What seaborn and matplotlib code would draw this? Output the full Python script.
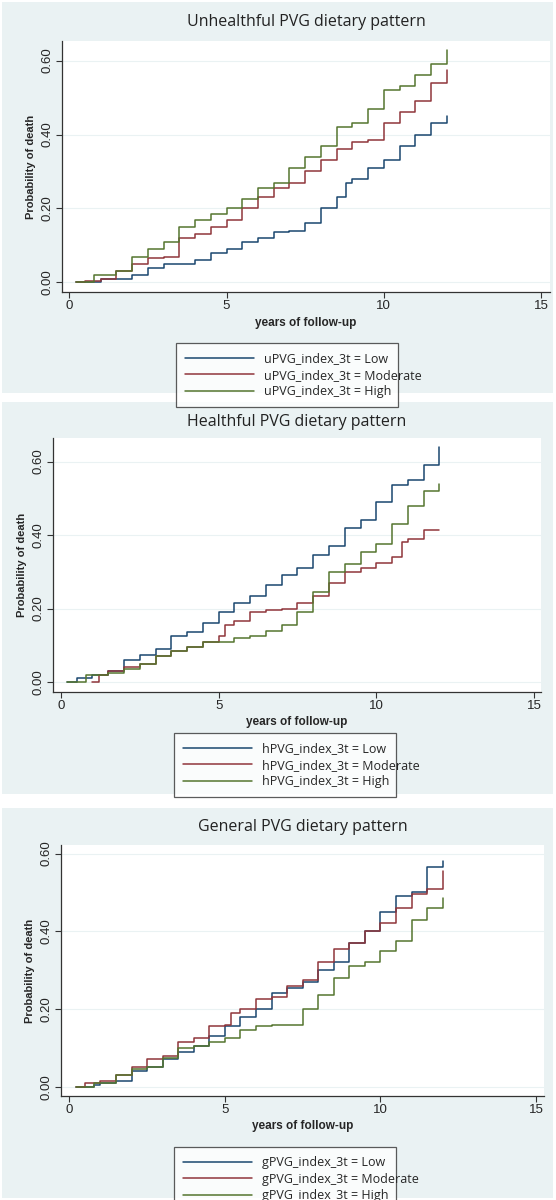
import numpy as np
import pandas as pd
import seaborn as sns
import matplotlib.pyplot as plt
from matplotlib.patches import Rectangle

# step knots (years, probability of death)
u_low_t = [0.2, 1.0, 2.0, 2.5, 3.0, 4.0, 4.5, 5.0, 5.5, 6.0, 6.5, 7.0, 7.5, 8.0, 8.5, 8.8, 9.0, 9.5, 10.0, 10.5, 11.0, 11.5, 12.0]
u_low_v = [0, 0.01, 0.02, 0.04, 0.05, 0.06, 0.08, 0.09, 0.11, 0.12, 0.135, 0.14, 0.16, 0.20, 0.23, 0.27, 0.28, 0.31, 0.33, 0.37, 0.40, 0.43, 0.45]
u_mod_t = [0.2, 0.5, 1.0, 1.5, 2.0, 2.5, 3.0, 3.5, 4.0, 4.5, 5.0, 5.5, 6.0, 6.5, 7.0, 7.5, 8.0, 8.5, 9.0, 9.5, 10.0, 10.5, 11.0, 11.5, 12.0]
u_mod_v = [0, 0.005, 0.01, 0.03, 0.05, 0.065, 0.07, 0.12, 0.13, 0.15, 0.17, 0.20, 0.23, 0.255, 0.27, 0.30, 0.33, 0.36, 0.38, 0.385, 0.43, 0.46, 0.49, 0.54, 0.575]
u_high_t = [0.2, 0.8, 1.5, 2.0, 2.5, 3.0, 3.5, 4.0, 4.5, 5.0, 5.5, 6.0, 6.5, 7.0, 7.5, 8.0, 8.5, 9.0, 9.5, 10.0, 10.5, 11.0, 11.5, 12.0]
u_high_v = [0, 0.02, 0.03, 0.07, 0.09, 0.11, 0.15, 0.17, 0.185, 0.20, 0.225, 0.255, 0.27, 0.31, 0.34, 0.37, 0.42, 0.43, 0.47, 0.52, 0.53, 0.56, 0.59, 0.63]

h_low_t = [0.2, 0.5, 1.0, 1.5, 2.0, 2.5, 3.0, 3.5, 4.0, 4.5, 5.0, 5.5, 6.0, 6.5, 7.0, 7.5, 8.0, 8.5, 9.0, 9.5, 10.0, 10.5, 11.0, 11.5, 12.0]
h_low_v = [0, 0.01, 0.02, 0.03, 0.06, 0.075, 0.09, 0.125, 0.135, 0.16, 0.19, 0.215, 0.235, 0.265, 0.29, 0.31, 0.345, 0.37, 0.42, 0.44, 0.49, 0.535, 0.55, 0.59, 0.64]
h_mod_t = [1.0, 1.2, 1.5, 2.0, 2.5, 3.0, 3.5, 4.0, 4.5, 5.0, 5.2, 5.5, 6.0, 6.5, 7.0, 7.5, 8.0, 8.5, 9.0, 9.5, 10.0, 10.5, 10.8, 11.0, 11.5, 12.0]
h_mod_v = [0, 0.02, 0.03, 0.04, 0.05, 0.07, 0.085, 0.095, 0.11, 0.125, 0.155, 0.165, 0.19, 0.195, 0.20, 0.215, 0.235, 0.27, 0.30, 0.31, 0.325, 0.34, 0.38, 0.39, 0.415, 0.415]
h_high_t = [0.2, 0.8, 1.5, 2.0, 2.5, 3.0, 3.5, 4.0, 4.5, 5.0, 5.5, 6.0, 6.5, 7.0, 7.5, 8.0, 8.5, 9.0, 9.5, 10.0, 10.5, 11.0, 11.5, 12.0]
h_high_v = [0, 0.02, 0.025, 0.035, 0.05, 0.07, 0.085, 0.095, 0.11, 0.11, 0.12, 0.125, 0.14, 0.155, 0.19, 0.245, 0.30, 0.32, 0.355, 0.375, 0.43, 0.48, 0.52, 0.54]

g_low_t = [0.2, 0.8, 1.0, 1.5, 2.0, 2.5, 3.0, 3.5, 4.0, 4.5, 5.0, 5.5, 6.0, 6.5, 7.0, 7.5, 8.0, 8.5, 9.0, 9.5, 10.0, 10.5, 11.0, 11.5, 12.0]
g_low_v = [0, 0.005, 0.01, 0.015, 0.04, 0.05, 0.07, 0.09, 0.105, 0.13, 0.155, 0.18, 0.20, 0.24, 0.255, 0.27, 0.30, 0.32, 0.37, 0.40, 0.45, 0.49, 0.50, 0.565, 0.58]
g_mod_t = [0.2, 0.5, 1.0, 1.5, 2.0, 2.5, 3.0, 3.5, 4.0, 4.5, 5.0, 5.2, 5.5, 6.0, 6.5, 7.0, 7.5, 8.0, 8.5, 9.0, 9.5, 10.0, 10.5, 11.0, 11.5, 12.0]
g_mod_v = [0, 0.01, 0.015, 0.03, 0.05, 0.07, 0.08, 0.115, 0.125, 0.155, 0.16, 0.19, 0.20, 0.225, 0.23, 0.26, 0.275, 0.32, 0.355, 0.37, 0.40, 0.42, 0.46, 0.495, 0.51, 0.555]
g_high_t = [0.2, 0.8, 1.5, 2.0, 2.5, 3.0, 3.5, 4.0, 4.5, 5.0, 5.5, 6.0, 6.5, 7.0, 7.5, 8.0, 8.5, 9.0, 9.5, 10.0, 10.5, 11.0, 11.5, 12.0]
g_high_v = [0, 0.01, 0.03, 0.045, 0.05, 0.075, 0.10, 0.105, 0.115, 0.125, 0.145, 0.155, 0.16, 0.16, 0.20, 0.235, 0.28, 0.31, 0.32, 0.35, 0.375, 0.43, 0.46, 0.485]

titles = ["Unhealthful PVG dietary pattern", "Healthful PVG dietary pattern", "General PVG dietary pattern"]
prefixes = ["uPVG", "hPVG", "gPVG"]
levels = ["Low", "Moderate", "High"]
yticks = [0.0, 0.2, 0.4, 0.6]
xticks = [0, 5, 10, 15]

series = [
    [(u_low_t, u_low_v), (u_mod_t, u_mod_v), (u_high_t, u_high_v)],
    [(h_low_t, h_low_v), (h_mod_t, h_mod_v), (h_high_t, h_high_v)],
    [(g_low_t, g_low_v), (g_mod_t, g_mod_v), (g_high_t, g_high_v)],
]

colors = ["#1a476f", "#90353b", "#55752f"]
bg = "#eaf2f3"

W, H = 556, 1200
# pixel layout: panel bg (top, bottom), title y, axes (left, right, top, bottom), legend (left, right, top, bottom)
panels = [
    dict(bg=(2, 393), title=22, ax=(62, 550, 41, 292), leg=(170, 404, 337, 390), ylim=(-0.026, 0.653), xlim=(-0.23, 15.28)),
    dict(bg=(402, 794), title=422, ax=(53, 541, 438, 692), leg=(168, 402, 727, 790), ylim=(-0.027, 0.664), xlim=(-0.25, 15.22)),
    dict(bg=(808, 1198), title=827, ax=(61, 544, 845, 1096), leg=(168, 402, 1141, 1194), ylim=(-0.024, 0.622), xlim=(-0.27, 15.26)),
]

sns.set_theme(style="white")
plt.rcParams['font.family'] = ['Liberation Sans', 'DejaVu Sans']

fig = plt.figure(figsize=(W / 100, H / 100), dpi=100)
fig.patch.set_facecolor("white")

for i, p in enumerate(panels):
    b0, b1 = p["bg"]
    fig.patches.append(Rectangle((2 / W, 1 - b1 / H), 551 / W, (b1 - b0) / H,
                                 transform=fig.transFigure, facecolor=bg, edgecolor="none", zorder=-5))
    fig.text(0.5 * (p["ax"][0] + p["ax"][1]) / W, 1 - p["title"] / H, titles[i],
             ha="center", va="center", fontsize=11.5, family=["Open Sans", "DejaVu Sans"], color="#222222")
    l, r, t, bt = p["ax"]
    ax = fig.add_axes([l / W, 1 - bt / H, (r - l) / W, (bt - t) / H])
    ax.set_zorder(2)
    ax.set_facecolor("white")
    rows = []
    for lev, (tt, vv) in zip(levels, series[i]):
        for a, b in zip(tt, vv):
            rows.append({"t": a, "p": b, "grp": f"{prefixes[i]}_index_3t = {lev}"})
    df = pd.DataFrame(rows)
    hue_order = [f"{prefixes[i]}_index_3t = {lev}" for lev in levels]
    sns.lineplot(data=df, x="t", y="p", hue="grp", hue_order=hue_order, palette=colors,
                 drawstyle="steps-post", linewidth=1.1, estimator=None, ax=ax, legend=True)
    ax.set_xlim(*p["xlim"])
    ax.set_ylim(*p["ylim"])
    ax.set_xticks(xticks)
    ax.set_yticks(yticks)
    ax.set_yticklabels([f"{v:.2f}" for v in yticks], rotation=90, va="center")
    ax.tick_params(axis="both", length=4, width=0.8, color="#333333", labelsize=9.5, pad=2, left=True, bottom=True)
    for yv in yticks:
        ax.axhline(yv, color="#eaf2f3", linewidth=0.8, zorder=0)
    for s in ["top", "right"]:
        ax.spines[s].set_visible(False)
    for s in ["left", "bottom"]:
        ax.spines[s].set_color("#333333")
        ax.spines[s].set_linewidth(0.9)
    ax.set_xlabel("years of follow-up", fontsize=8.5, fontweight="bold", labelpad=3)
    ax.set_ylabel("Probability of death", fontsize=8, fontweight="bold", labelpad=4)
    ax.get_legend().remove()
    handles, labels = ax.get_legend_handles_labels()
    ll, lr, lt, lb = p["leg"]
    leg = fig.legend(handles, labels, loc="upper left",
                     bbox_to_anchor=(ll / W, 1 - lb / H, (lr - ll) / W, (lb - lt) / H),
                     mode="expand", frameon=True, fancybox=False,
                     handlelength=5.5, labelspacing=0.3, borderpad=0.7,
                     prop={"family": ["Open Sans", "DejaVu Sans"], "size": 9})
    leg.set_zorder(3)
    leg.get_frame().set_edgecolor("#333333")
    leg.get_frame().set_linewidth(0.9)
    leg.get_frame().set_facecolor("white")

fig.savefig("out.png", dpi=100, facecolor="white")
